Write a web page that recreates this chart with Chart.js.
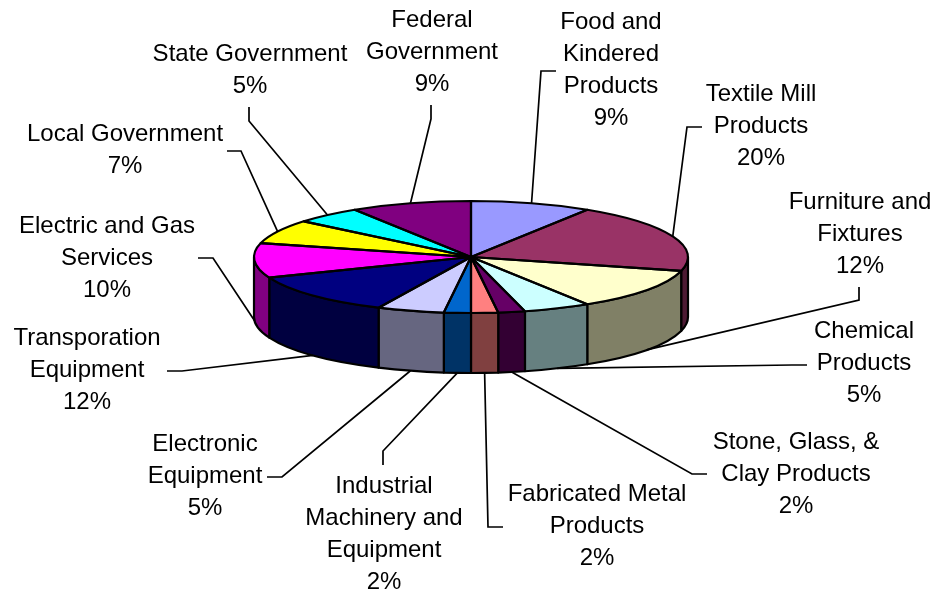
<!DOCTYPE html>
<html>
<head>
<meta charset="utf-8">
<title>Pie</title>
<style>
  html, body { margin: 0; padding: 0; background: #fff; }
  canvas { display: block; }
</style>
<script src="https://cdn.jsdelivr.net/npm/chart.js@4"></script>
</head>
<body>
<canvas id="myChart" width="936" height="595"></canvas>
<script>
const categories = [
  "Food and\nKindered\nProducts", "Textile Mill\nProducts", "Furniture and\nFixtures",
  "Chemical\nProducts", "Stone, Glass, &\nClay Products", "Fabricated Metal\nProducts",
  "Industrial\nMachinery and\nEquipment", "Electronic\nEquipment", "Transporation\nEquipment",
  "Electric and Gas\nServices", "Local Government", "State Government", "Federal\nGovernment"
];
const values = [9, 20, 12, 5, 2, 2, 2, 5, 12, 10, 7, 5, 9];
const sliceColors = [
  "#9999FF", "#993366", "#FFFFCC", "#CCFFFF", "#660066", "#FF8080", "#0066CC",
  "#CCCCFF", "#000080", "#FF00FF", "#FFFF00", "#00FFFF", "#800080"
];

// label position: centre x, first baseline
const labelSpots = [
  [611, 29], [761, 101], [860, 209], [864, 338], [796, 449], [597, 501], [384, 493],
  [205, 451], [87, 345], [107, 233], [125, 141], [250, 61], [432, 27]
];
// leader line: start x, start y, elbow x, elbow y (the far end sits on the pie)
const leaderElbows = [
  [556, 71, 541, 71], [702, 127, 687, 127], [859, 287, 859, 300], [807, 365, 792, 365],
  [707, 474, 692, 474], [503, 527, 488, 527], [383, 465, 383, 451], [267, 477, 282, 477],
  [167, 371, 182, 371], [198, 258, 213, 258], [227, 151, 241, 151], [249, 107, 249, 121],
  [431, 105, 431, 119]
];

const TILT = 56 / 217;   // ellipse height / width of the top face
const DEPTH = 60;        // wall height of the pie
const LINE_HEIGHT = 32;

function halfShade(hex)
{
  var out = "rgb(";
  for (var i = 0; i < 3; i++)
  {
    out += Math.round(parseInt(hex.substr(1 + i * 2, 2), 16) / 2) + (i < 2 ? "," : ")");
  }
  return out;
}

function arcs(chart)
{
  return chart.getDatasetMeta(0).data.map(el => el.getProps(["x", "y", "startAngle", "endAngle", "outerRadius"], true));
}

const pie3d = {
  id: "pie3d",

  // walls first, then squash the context so the library fills flat ellipses
  beforeDatasetsDraw(chart) {
    const ctx = chart.ctx;
    ctx.save();
    ctx.lineWidth = 2.2;
    ctx.lineJoin = "round";
    ctx.strokeStyle = "#000";
    arcs(chart).forEach((a, i) => {
      const lo = Math.max(a.startAngle, 0);
      const hi = Math.min(a.endAngle, Math.PI);
      if (lo >= hi) return;
      const ry = a.outerRadius * TILT;
      ctx.beginPath();
      ctx.ellipse(a.x, a.y, a.outerRadius, ry, 0, lo, hi);
      ctx.ellipse(a.x, a.y + DEPTH, a.outerRadius, ry, 0, hi, lo, true);
      ctx.closePath();
      ctx.fillStyle = halfShade(sliceColors[i]);
      ctx.fill();
      ctx.stroke();
    });
    ctx.restore();

    const first = arcs(chart)[0];
    ctx.save();
    ctx.translate(first.x, first.y);
    ctx.scale(1, TILT);
    ctx.translate(-first.x, -first.y);
  },

  afterDatasetsDraw(chart) {
    const ctx = chart.ctx;
    ctx.restore();

    // slice outlines on the top face
    ctx.save();
    ctx.lineWidth = 2.2;
    ctx.lineJoin = "round";
    ctx.strokeStyle = "#000";
    arcs(chart).forEach(a => {
      ctx.beginPath();
      ctx.moveTo(a.x, a.y);
      ctx.ellipse(a.x, a.y, a.outerRadius, a.outerRadius * TILT, 0, a.startAngle, a.endAngle);
      ctx.closePath();
      ctx.stroke();
    });
    ctx.restore();
  },

  afterDraw(chart) {
    const ctx = chart.ctx;
    ctx.save();
    ctx.strokeStyle = "#000";
    ctx.lineWidth = 1.7;
    arcs(chart).forEach((a, i) => {
      const mid = (a.startAngle + a.endAngle) / 2;
      const endX = a.x + a.outerRadius * Math.cos(mid);
      var endY = a.y + a.outerRadius * TILT * Math.sin(mid);
      if (Math.sin(mid) > 0 || Math.cos(mid) < -0.99) endY += DEPTH;
      const e = leaderElbows[i];
      ctx.beginPath();
      ctx.moveTo(e[0], e[1]);
      ctx.lineTo(e[2], e[3]);
      ctx.lineTo(endX, endY);
      ctx.stroke();
    });

    ctx.fillStyle = "#000";
    ctx.font = "24px 'Liberation Sans'";
    ctx.textAlign = "center";
    ctx.textBaseline = "alphabetic";
    categories.forEach((name, i) => {
      const lines = name.split("\n").concat(values[i] + "%");
      lines.forEach((line, k) => {
        ctx.fillText(line, labelSpots[i][0], labelSpots[i][1] + k * LINE_HEIGHT);
      });
    });
    ctx.restore();
  }
};

var ctx = document.getElementById("myChart").getContext("2d");

var chart = new Chart(ctx, {
  type: "pie",
  data: {
    labels: categories,
    datasets: [{
      data: values,
      backgroundColor: sliceColors,
      borderWidth: 0
    }]
  },
  options: {
    responsive: false,
    animation: false,
    layout: { padding: { left: 254, right: 248, top: 40, bottom: 121 } },
    plugins: { legend: { display: false }, tooltip: { enabled: false } }
  },
  plugins: [pie3d]
});
</script>
</body>
</html>
